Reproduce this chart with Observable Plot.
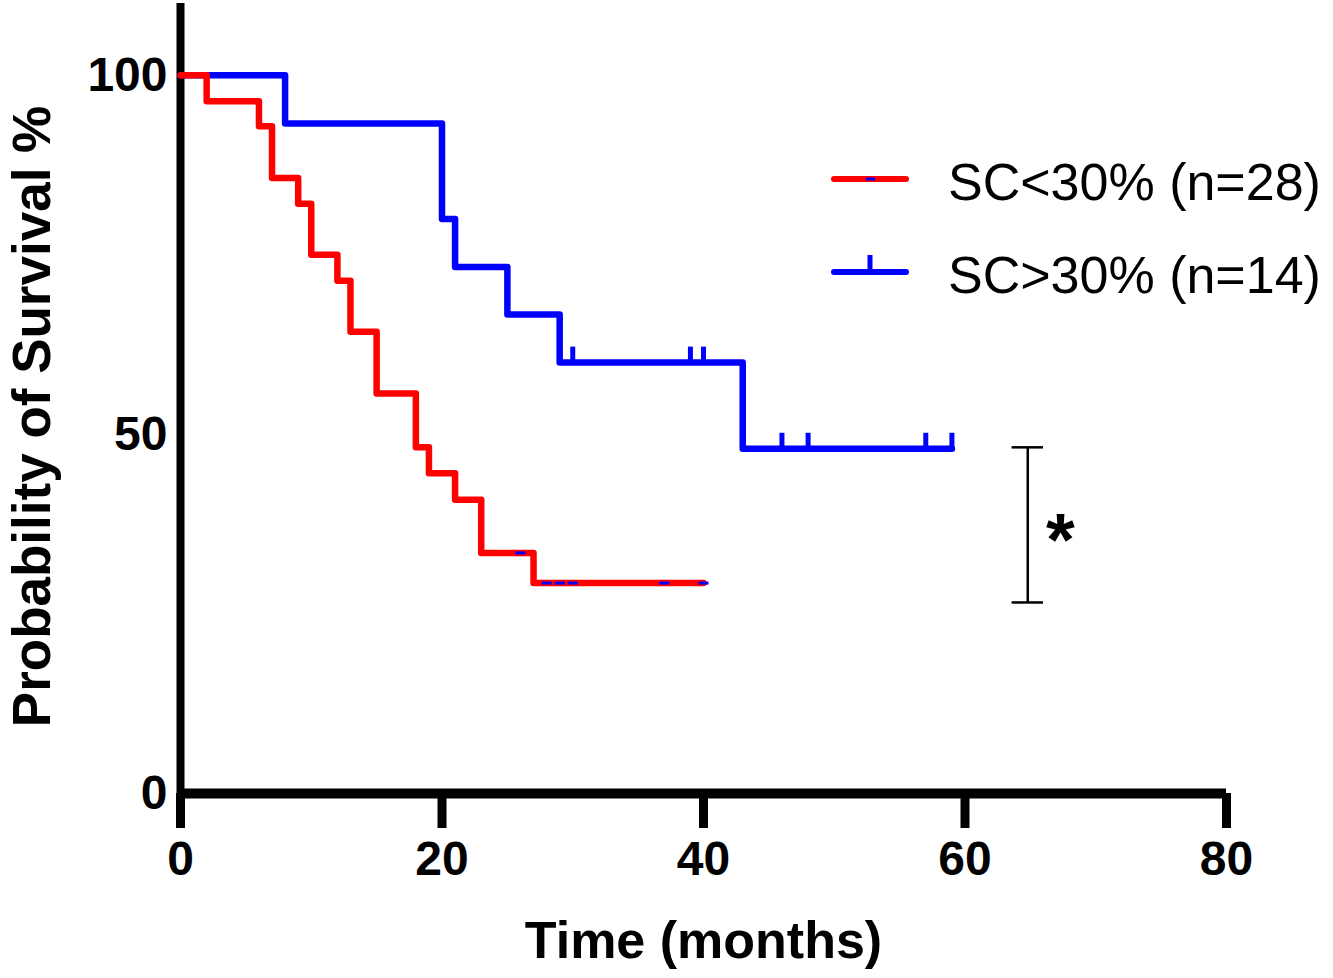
<!DOCTYPE html>
<html>
<head>
<meta charset="utf-8">
<script src="https://cdn.jsdelivr.net/npm/d3@7"></script>
<script src="https://cdn.jsdelivr.net/npm/@observablehq/plot@0.6"></script>
<style>
  body { margin: 0; background: #fff; }
  #chart { position: relative; width: 1333px; height: 978px; font-family: "Liberation Sans", Arial, sans-serif; }
  #legend { position: absolute; left: 0; top: 0; }
</style>
</head>
<body>
<div id="chart"></div>
<script>
// Kaplan-Meier curves (time in months, survival in %)
const redTime = [0, 2, 6, 7, 9, 10, 12, 13, 15, 18, 19, 21, 23, 27, 40]
const redSurv = [100, 96.4, 92.9, 85.7, 82.1, 75.0, 71.4, 64.3, 55.7, 48.2, 44.6, 40.9, 33.5, 29.3, 29.3]
const blueTime = [0, 8, 20, 21, 25, 29, 43, 59]
const blueSurv = [100, 93.3, 80.0, 73.3, 66.7, 60.0, 48.0, 48.0]

// censored observations
const redCensTime = [26, 28, 29, 30, 37, 40]
const redCensSurv = [33.5, 29.3, 29.3, 29.3, 29.3, 29.3]
const blueCensTime = [30, 39, 40, 46, 48, 57, 59]
const blueCensSurv = [60.0, 60.0, 60.0, 48.0, 48.0, 48.0, 48.0]

const xTicks = [0, 20, 40, 60, 80]
const yTicks = [0, 50, 100]

// significance bracket
const bracketX = 64.8
const bracketY = [26.6, 48.2]
const starLabel = "*"

const groups = [
  {label: "SC<30% (n=28)", color: "#ff0000"},
  {label: "SC>30% (n=14)", color: "#0000ff"}
]

const red = redTime.map((t, i) => ({t, s: redSurv[i]}))
const blue = blueTime.map((t, i) => ({t, s: blueSurv[i]}))
const redCens = redCensTime.map((t, i) => ({t, s: redCensSurv[i]}))
const blueCens = blueCensTime.map((t, i) => ({t, s: blueCensSurv[i]}))

// little glyphs for censor marks
const upTick = {draw(ctx) { ctx.moveTo(0, 0); ctx.lineTo(0, -16) }}
const dash = {draw(ctx) { ctx.moveTo(-5, 0); ctx.lineTo(5, 0) }}

const bold = {fontSize: 48, fontWeight: "bold"}

let chart = Plot.plot({
  width: 1333,
  height: 978,
  marginLeft: 180,
  marginRight: 107,
  marginTop: 3,
  marginBottom: 185,
  style: {fontFamily: "Liberation Sans, Arial, sans-serif", background: "#fff"},
  x: {domain: [0, 80]},
  y: {domain: [0, 110]},
  marks: [
    Plot.axisX({ticks: xTicks, tickSize: 35, tickPadding: 12, strokeWidth: 9, label: null, ...bold}),
    Plot.axisY({ticks: yTicks, tickSize: 0, tickPadding: 13, label: null, ...bold}),
    Plot.ruleY([0], {strokeWidth: 10, stroke: "#000"}),
    Plot.ruleX([0], {strokeWidth: 8, stroke: "#000"}),
    Plot.line(blue, {x: "t", y: "s", curve: "step-after", stroke: "#0000ff", strokeWidth: 6.5, strokeLinejoin: "round", strokeLinecap: "round"}),
    Plot.dot(blueCens, {x: "t", y: "s", symbol: upTick, fill: "none", stroke: "#0000ff", strokeWidth: 5}),
    Plot.line(red, {x: "t", y: "s", curve: "step-after", stroke: "#ff0000", strokeWidth: 6.5, strokeLinejoin: "round", strokeLinecap: "round"}),
    Plot.dot(redCens, {x: "t", y: "s", symbol: dash, fill: "none", stroke: "#0000ff", strokeWidth: 3}),
    // bracket with star
    Plot.ruleX([bracketX], {y1: bracketY[0], y2: bracketY[1], stroke: "#000", strokeWidth: 2.5}),
    Plot.ruleY(bracketY, {x1: bracketX - 1.2, x2: bracketX + 1.2, stroke: "#000", strokeWidth: 2.5}),
    Plot.text([starLabel], {x: bracketX + 2.5, y: (bracketY[0] + bracketY[1]) / 2, fontSize: 74, fontWeight: "bold", dy: 16}),
    // axis titles
    Plot.text(["Time (months)"], {frameAnchor: "bottom", dy: 164, fontSize: 52, fontWeight: "bold"}),
    Plot.text(["Probability of Survival %"], {frameAnchor: "left", textAnchor: "middle", rotate: -90, dx: -147, dy: 18, fontSize: 53, fontWeight: "bold"})
  ]
})

d3.select("#chart").append(() => chart)

// legend over the top-right of the plot
const legend = d3.select("#chart").append("svg")
  .attr("id", "legend")
  .attr("width", 1333).attr("height", 320)

groups.forEach((g, i) => {
  const y = 179 + i * 93
  const row = legend.append("g")
  row.append("line")
    .attr("x1", 834).attr("x2", 906).attr("y1", y).attr("y2", y)
    .attr("stroke", g.color).attr("stroke-width", 6).attr("stroke-linecap", "round")
  if (i == 0) {
    row.append("line").attr("x1", 866).attr("x2", 875).attr("y1", y).attr("y2", y)
      .attr("stroke", "#0000ff").attr("stroke-width", 3)
  } else {
    row.append("line").attr("x1", 870).attr("x2", 870).attr("y1", y).attr("y2", y - 17)
      .attr("stroke", "#0000ff").attr("stroke-width", 5)
  }
  row.append("text")
    .attr("x", 948).attr("y", y + 21)
    .attr("font-size", 52)
    .attr("font-family", "Liberation Sans, Arial, sans-serif")
    .text(g.label)
})
</script>
</body>
</html>
